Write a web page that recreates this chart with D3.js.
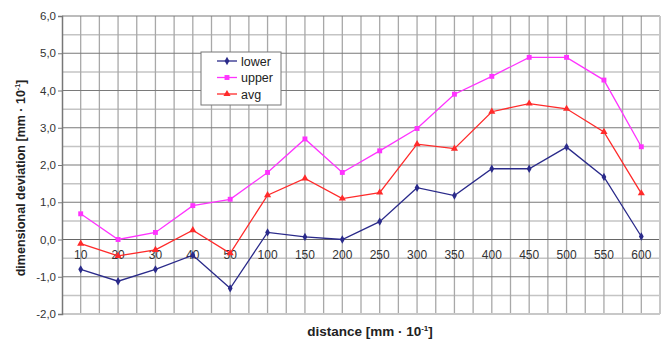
<!DOCTYPE html>
<html>
<head>
<meta charset="utf-8">
<script src="https://cdn.jsdelivr.net/npm/d3@7"></script>
<style>
  body { margin: 0; background: #fff; }
  svg { font-family: "Liberation Sans", Arial, sans-serif; }
</style>
</head>
<body>
<div id="chart"></div>
<script>
const distances = ['10', '20', '30', '40', '50', '100', '150', '200', '250', '300', '350', '400', '450', '500', '550', '600'];
const lower = [-0.8, -1.12, -0.8, -0.42, -1.31, 0.19, 0.07, 0.0, 0.48, 1.39, 1.18, 1.9, 1.9, 2.48, 1.68, 0.08];
const upper = [0.69, 0.0, 0.19, 0.91, 1.08, 1.8, 2.7, 1.8, 2.38, 2.98, 3.9, 4.38, 4.89, 4.89, 4.28, 2.49];
const avg = [-0.11, -0.44, -0.28, 0.25, -0.37, 1.19, 1.64, 1.1, 1.26, 2.56, 2.44, 3.43, 3.65, 3.51, 2.89, 1.24];
const yTicks = [-2, -1, 0, 1, 2, 3, 4, 5, 6];

const width = 667, height = 340;
const margin = { top: 16, right: 7, bottom: 26, left: 62 };
const innerW = width - margin.left - margin.right;
const innerH = height - margin.top - margin.bottom;

const svg = d3.select('#chart')
  .append('svg')
  .attr('width', width)
  .attr('height', height);

const g = svg.append('g')
  .attr('transform', `translate(${margin.left}, ${margin.top})`);

const x = d3.scaleBand()
  .domain(distances)
  .range([0, innerW]);

const y = d3.scaleLinear()
  .domain([-2, 6])
  .range([innerH, 0]);

// minor horizontal grid (every 0.5)
g.selectAll('.hminor')
  .data(d3.range(-1.5, 6, 1))
  .join('line')
  .attr('x1', 0)
  .attr('x2', innerW)
  .attr('y1', d => y(d))
  .attr('y2', d => y(d))
  .attr('stroke', '#c4c4c4')
  .attr('stroke-width', 1.5);

// vertical grid: category boundaries and centers
const vlines = [];
distances.forEach(d => {
  vlines.push(x(d));
  vlines.push(x(d) + x.bandwidth() / 2);
});
g.selectAll('.vgrid')
  .data(vlines.slice(1))
  .join('line')
  .attr('x1', d => d)
  .attr('x2', d => d)
  .attr('y1', 0)
  .attr('y2', innerH)
  .attr('stroke', '#a8a8a8')
  .attr('stroke-width', 1.3);

// major horizontal grid
g.selectAll('.hmajor')
  .data(yTicks.filter(d => d > -2))
  .join('line')
  .attr('x1', 0)
  .attr('x2', innerW)
  .attr('y1', d => y(d))
  .attr('y2', d => y(d))
  .attr('stroke', d => d === 0 ? '#666' : '#7a7a7a')
  .attr('stroke-width', 1.2);

// plot border right/bottom
g.append('line')
  .attr('x1', innerW).attr('x2', innerW)
  .attr('y1', 0).attr('y2', innerH)
  .attr('stroke', '#c8c8c8').attr('stroke-width', 2);
g.append('line')
  .attr('x1', 0).attr('x2', innerW)
  .attr('y1', innerH).attr('y2', innerH)
  .attr('stroke', '#c8c8c8').attr('stroke-width', 2);

// y-axis
g.append('g')
  .style('font-size', '11.5px')
  .call(d3.axisLeft(y)
    .tickValues(yTicks)
    .tickSize(4)
    .tickPadding(2)
    .tickFormat(d => d3.format('.1f')(d).replace('.', ',').replace('−', '-')))
  .call(sel => sel.select('.domain').attr('stroke', '#777').attr('stroke-width', 1.5))
  .call(sel => sel.selectAll('.tick line').attr('stroke', '#777'))
  .selectAll('.tick text')
  .attr('fill', '#333');

// x labels at the zero line
g.append('g')
  .attr('transform', `translate(0, ${y(0)})`)
  .style('font-size', '12px')
  .call(d3.axisBottom(x).tickSize(0).tickPadding(11))
  .call(sel => sel.select('.domain').remove())
  .selectAll('.tick text')
  .attr('fill', '#333');

// series
const series = [
  { name: 'lower', values: lower, color: '#2a2a8a', marker: 'diamond' },
  { name: 'upper', values: upper, color: '#ff33ff', marker: 'square' },
  { name: 'avg', values: avg, color: '#ff2a2a', marker: 'triangle' }
];

const cx = d => x(d) + x.bandwidth() / 2;

const line = d3.line()
  .x(d => cx(d.key))
  .y(d => y(d.value));

function markerPath(type) {
  if (type === 'square') return d3.symbol(d3.symbolSquare, 24)();
  if (type === 'triangle') return d3.symbol(d3.symbolTriangle, 22)();
  return d3.symbol(d3.symbolDiamond, 20)();
}

series.forEach(s => {
  const pts = distances.map((k, i) => ({ key: k, value: s.values[i] }));
  g.append('path')
    .datum(pts)
    .attr('fill', 'none')
    .attr('stroke', s.color)
    .attr('stroke-width', 1.3)
    .attr('d', line);

  g.append('g')
    .selectAll('path')
    .data(pts)
    .join('path')
    .attr('transform', d => `translate(${cx(d.key)}, ${y(d.value)})`)
    .attr('d', markerPath(s.marker))
    .attr('fill', s.color);
});

// legend
const legend = svg.append('g')
  .attr('transform', 'translate(201, 52)');
legend.append('rect')
  .attr('width', 80)
  .attr('height', 53)
  .attr('fill', '#fff')
  .attr('stroke', '#777')
  .attr('stroke-width', 1);

series.forEach((s, i) => {
  const row = legend.append('g')
    .attr('transform', `translate(0, ${9 + i * 16.5})`);
  row.append('line')
    .attr('x1', 16).attr('x2', 36)
    .attr('y1', 0).attr('y2', 0)
    .attr('stroke', s.color)
    .attr('stroke-width', 1.3);
  row.append('path')
    .attr('transform', 'translate(26, 0)')
    .attr('d', markerPath(s.marker))
    .attr('fill', s.color);
  row.append('text')
    .attr('x', 40)
    .attr('y', 4.5)
    .style('font-size', '12.5px')
    .attr('fill', '#222')
    .text(s.name);
});

// axis titles
svg.append('text')
  .attr('transform', `translate(25, 178) rotate(-90)`)
  .attr('text-anchor', 'middle')
  .style('font-size', '12.5px')
  .style('font-weight', 'bold')
  .attr('fill', '#222')
  .text('dimensional deviation  [mm · 10')
  .append('tspan')
  .attr('dy', -5)
  .style('font-size', '7px')
  .text('-1')
  .select(function () { return this.parentNode; })
  .append('tspan')
  .attr('dy', 5)
  .text(']');

svg.append('text')
  .attr('x', 370)
  .attr('y', 336)
  .attr('text-anchor', 'middle')
  .style('font-size', '13.5px')
  .style('font-weight', 'bold')
  .attr('fill', '#222')
  .text('distance [mm · 10')
  .append('tspan')
  .attr('dy', -5)
  .style('font-size', '8px')
  .text('-1')
  .select(function () { return this.parentNode; })
  .append('tspan')
  .attr('dy', 5)
  .text(']');
</script>
</body>
</html>
